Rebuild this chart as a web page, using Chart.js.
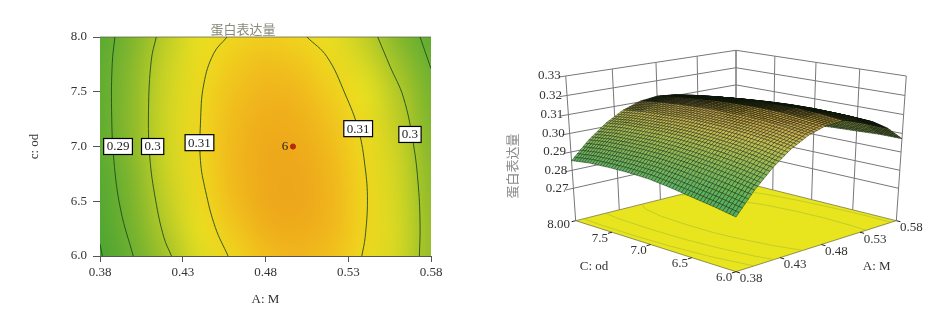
<!DOCTYPE html>
<html>
<head>
  <title>蛋白表达量</title>
  <script src="https://cdn.jsdelivr.net/npm/chart.js"></script>
  <style>
    body { margin: 0; background: #fff; }
    canvas { position: absolute; top: 0; }
    #contourChart { left: 0; }
    #surfaceChart { left: 475px; }
  </style>
</head>
<body>
  <canvas id="contourChart" width="475" height="314"></canvas>
  <canvas id="surfaceChart" width="476" height="314"></canvas>
  <script>
    // response: rows are C, columns are A
    const aValues = [0.38, 0.40, 0.42, 0.44, 0.46, 0.48, 0.50, 0.52, 0.54, 0.56, 0.58];
    const cValues = [8.0, 7.75, 7.5, 7.25, 7.0, 6.75, 6.5, 6.25, 6.0];
    const response = [
      [0.2853, 0.2946, 0.3019, 0.3072, 0.3104, 0.3115, 0.3106, 0.3076, 0.3026, 0.2955, 0.2863],
      [0.2866, 0.2959, 0.3032, 0.3085, 0.3118, 0.3131, 0.3124, 0.3097, 0.3050, 0.2983, 0.2896],
      [0.2870, 0.2964, 0.3038, 0.3092, 0.3127, 0.3142, 0.3138, 0.3114, 0.3070, 0.3007, 0.2924],
      [0.2870, 0.2966, 0.3042, 0.3098, 0.3134, 0.3151, 0.3148, 0.3125, 0.3083, 0.3021, 0.2939],
      [0.2865, 0.2962, 0.3040, 0.3099, 0.3137, 0.3156, 0.3155, 0.3134, 0.3094, 0.3034, 0.2954],
      [0.2851, 0.2952, 0.3034, 0.3096, 0.3137, 0.3158, 0.3159, 0.3140, 0.3101, 0.3041, 0.2961],
      [0.2832, 0.2938, 0.3024, 0.3089, 0.3133, 0.3157, 0.3160, 0.3142, 0.3104, 0.3045, 0.2966],
      [0.2814, 0.2921, 0.3009, 0.3076, 0.3122, 0.3148, 0.3154, 0.3139, 0.3104, 0.3048, 0.2972],
      [0.2792, 0.2900, 0.2988, 0.3057, 0.3105, 0.3133, 0.3141, 0.3129, 0.3097, 0.3045, 0.2972]
    ];

    // contour lines as [A, C]
    const line28 = [[0.38, 6.11], [0.3814, 6.0]];
    const line29L = [[0.389, 8], [0.3874, 7.76], [0.387, 7.33], [0.3884, 6.87], [0.3925, 6.42], [0.4001, 6]];
    const line29R = [[0.5734, 8], [0.58, 7.71]];
    const line30L = [[0.414, 8], [0.411, 7.79], [0.4093, 7.33], [0.4101, 6.9], [0.4136, 6.51], [0.4186, 6.17], [0.4232, 6]];
    const line30R = [[0.5478, 8], [0.5553, 7.73], [0.5633, 7.45], [0.5693, 7.03], [0.5724, 6.63], [0.5734, 6.27], [0.573, 6]];
    const line31L = [[0.4568, 8], [0.4487, 7.85], [0.4427, 7.57], [0.4407, 7.21], [0.4407, 6.87], [0.4437, 6.6], [0.4497, 6.26], [0.4574, 6]];
    const line31R = [[0.505, 8], [0.5171, 7.82], [0.5281, 7.48], [0.5362, 7.15], [0.5402, 6.81], [0.5416, 6.51], [0.5402, 6.17], [0.5382, 6]];
    const contourLines = [line28, line29L, line29R, line30L, line30R, line31L, line31R];

    const labelTexts = ['0.29', '0.3', '0.31', '0.31', '0.3'];
    const labelA = [0.3909, 0.4118, 0.4401, 0.536, 0.5673];
    const labelC = [7.0, 7.0, 7.035, 7.163, 7.11];
    const centerPoint = [0.4966, 7.0];

    const aTicks = [0.38, 0.43, 0.48, 0.53, 0.58];
    const cTicks = [6.0, 6.5, 7.0, 7.5, 8.0];
    const zTicks = [0.27, 0.28, 0.29, 0.30, 0.31, 0.32, 0.33];
    const cTickLabels3d = ['6.0', '6.5', '7.0', '7.5', '8.00'];
    const zFloor = 0.2516;

    const serif = '"Liberation Serif", serif';
    const cjk = '"Noto Sans CJK SC", sans-serif';
    const textColor = '#333';

    // colour ramps
    const rampZ = [0.275, 0.285, 0.295, 0.302, 0.307, 0.311, 0.314, 0.317];
    const heatRamp = [[70, 160, 50], [88, 170, 50], [130, 182, 45], [190, 205, 38], [232, 224, 32], [240, 210, 30], [240, 182, 28], [236, 160, 26]];
    const meshRamp = [[75, 170, 100], [90, 178, 95], [130, 185, 85], [170, 190, 80], [200, 190, 80], [205, 175, 75], [200, 160, 70], [190, 150, 65]];

    function rampColor(ramp, z) {
      if (z <= rampZ[0]) return ramp[0];
      for (let i = 1; i < rampZ.length; i++) {
        if (z <= rampZ[i]) {
          const t = (z - rampZ[i - 1]) / (rampZ[i] - rampZ[i - 1]);
          return ramp[i].map((v, k) => ramp[i - 1][k] + (v - ramp[i - 1][k]) * t);
        }
      }
      return ramp[ramp.length - 1];
    }
    function css(c) { return 'rgb(' + c.map(Math.round).join(',') + ')'; }

    // left: heat map behind the contour lines
    const heatPlugin = {
      id: 'heat',
      beforeDatasetsDraw(chart) {
        const { ctx, scales: { x, y } } = chart;
        const off = document.createElement('canvas');
        off.width = aValues.length;
        off.height = cValues.length;
        const oc = off.getContext('2d');
        response.forEach((row, j) => row.forEach((z, i) => {
          oc.fillStyle = css(rampColor(heatRamp, z));
          oc.fillRect(i, j, 1, 1);
        }));
        const x0 = x.getPixelForValue(aValues[0]), x1 = x.getPixelForValue(aValues[aValues.length - 1]);
        const y0 = y.getPixelForValue(cValues[0]), y1 = y.getPixelForValue(cValues[cValues.length - 1]);
        ctx.save();
        ctx.imageSmoothingEnabled = true;
        ctx.imageSmoothingQuality = 'high';
        ctx.drawImage(off, 0.5, 0.5, off.width - 1, off.height - 1, x0, y0, x1 - x0, y1 - y0);
        ctx.strokeStyle = 'rgba(90,90,60,0.7)';
        ctx.lineWidth = 1;
        ctx.beginPath();
        ctx.moveTo(x0, y0);
        ctx.lineTo(x1, y0);
        ctx.stroke();
        ctx.restore();
      },
      afterDatasetsDraw(chart) {
        const { ctx, scales: { x, y } } = chart;
        ctx.save();
        ctx.font = '13px ' + serif;
        ctx.textAlign = 'center';
        ctx.textBaseline = 'middle';
        labelTexts.forEach((t, i) => {
          const px = x.getPixelForValue(labelA[i]), py = y.getPixelForValue(labelC[i]);
          const w = ctx.measureText(t).width + 6;
          ctx.fillStyle = '#fff';
          ctx.strokeStyle = '#000';
          ctx.lineWidth = 1.2;
          ctx.fillRect(px - w / 2, py - 8, w, 16);
          ctx.strokeRect(px - w / 2, py - 8, w, 16);
          ctx.fillStyle = '#222';
          ctx.fillText(t, px, py + 0.5);
        });
        ctx.fillText('6', x.getPixelForValue(centerPoint[0]) - 8, y.getPixelForValue(centerPoint[1]));
        ctx.fillStyle = '#8a8a7a';
        ctx.font = '13px ' + cjk;
        ctx.fillText('蛋白表达量', 243, 29);
        ctx.restore();
      }
    };

    new Chart(document.getElementById('contourChart'), {
      type: 'scatter',
      data: {
        datasets: contourLines.map(l => ({
          data: l.map(p => ({ x: p[0], y: p[1] })),
          showLine: true,
          tension: 0.4,
          borderColor: 'rgba(25,70,30,0.85)',
          borderWidth: 1,
          pointRadius: 0
        })).concat([{
          data: [{ x: centerPoint[0], y: centerPoint[1] }],
          pointRadius: 2.6,
          backgroundColor: '#b8280e',
          borderColor: '#b8280e'
        }])
      },
      options: {
        responsive: false,
        animation: false,
        layout: { padding: { top: 37, right: 44 } },
        plugins: { legend: { display: false }, tooltip: { enabled: false } },
        scales: {
          x: {
            type: 'linear', min: 0.38, max: 0.58,
            afterBuildTicks: s => { s.ticks = aTicks.map(v => ({ value: v })); },
            afterFit: s => { s.height = 58; },
            grid: { drawOnChartArea: false, color: '#555', tickLength: 6 },
            border: { color: '#555' },
            ticks: { callback: v => v.toFixed(2), font: { family: serif, size: 13 }, color: textColor, maxRotation: 0, padding: 3 },
            title: { display: true, text: 'A: M', font: { family: serif, size: 13 }, color: textColor, padding: { top: 8, bottom: 7 } }
          },
          y: {
            type: 'linear', min: 6, max: 8,
            afterBuildTicks: s => { s.ticks = cTicks.map(v => ({ value: v })); },
            afterFit: s => { s.width = 100; },
            grid: { drawOnChartArea: false, color: '#555', tickLength: 7 },
            border: { color: '#555' },
            ticks: { callback: v => v.toFixed(1), font: { family: serif, size: 13 }, color: textColor, padding: 6 },
            title: { display: true, text: 'c: od', font: { family: serif, size: 13 }, color: textColor, padding: { top: 27 } }
          }
        }
      },
      plugins: [heatPlugin]
    });

    // right: perspective box, everything goes through project()
    function project(a, c, z) {
      const u = (a - 0.38) / 0.2, v = (c - 6) / 2, w = (z - zFloor) / (0.33 - zFloor);
      const h = u - v, g = u + v;
      const d = 7.27 + g - 0.483 * w;
      return { x: 736 + 1326 * h / d, y: 271.7 - (421.8 * g + 1102 * w) / d };
    }
    function path3d(pts, color, width) {
      return {
        data: pts.map(p => project(p[0], p[1], p[2])),
        showLine: true, borderColor: color, borderWidth: width, pointRadius: 0, tension: 0
      };
    }

    const wallColor = '#777';
    const wallLines = [];
    zTicks.forEach(z => wallLines.push(path3d([[0.372, 8, z], [0.58, 8, z], [0.58, 6, z]], wallColor, 1)));
    aTicks.forEach(a => wallLines.push(path3d([[a, 8, zFloor], [a, 8, 0.33]], wallColor, 1)));
    cTicks.forEach(c => wallLines.push(path3d([[0.58, c, zFloor], [0.58, c, 0.33]], wallColor, 1)));
    const floorTicks = [];
    aTicks.forEach(a => floorTicks.push(path3d([[a, 6, zFloor], [a, 5.955, zFloor]], '#222', 1)));
    cTicks.forEach(c => floorTicks.push(path3d([[0.38, c, zFloor], [0.3755, c, zFloor]], '#222', 1)));

    function zAt(fi, fj) {
      const i = Math.min(Math.floor(fi), aValues.length - 2), j = Math.min(Math.floor(fj), cValues.length - 2);
      const s = fi - i, t = fj - j;
      return (response[j][i] * (1 - s) + response[j][i + 1] * s) * (1 - t) +
             (response[j + 1][i] * (1 - s) + response[j + 1][i + 1] * s) * t;
    }

    const surfacePlugin = {
      id: 'surface',
      beforeDatasetsDraw(chart) {
        const { ctx, scales: { x, y } } = chart;
        const poly = pts => {
          ctx.beginPath();
          pts.forEach((p, i) => {
            const px = x.getPixelForValue(p.x), py = y.getPixelForValue(p.y);
            if (i) ctx.lineTo(px, py); else ctx.moveTo(px, py);
          });
        };
        ctx.save();
        poly([[0.38, 6], [0.58, 6], [0.58, 8], [0.38, 8]].map(p => project(p[0], p[1], zFloor)));
        ctx.closePath();
        ctx.fillStyle = '#e8e41e';
        ctx.fill();
        ctx.strokeStyle = 'rgba(90,90,50,0.8)';
        ctx.lineWidth = 0.8;
        ctx.stroke();
        ctx.strokeStyle = 'rgba(170,190,50,0.6)';
        ctx.lineWidth = 1;
        [line29L, line30L, line30R, line31L, line31R].forEach(l => {
          poly(l.map(p => project(p[0], p[1], zFloor)));
          ctx.stroke();
        });
        ctx.restore();
      },
      afterDatasetsDraw(chart) {
        const { ctx, scales: { x, y } } = chart;
        const subA = 6, subC = 7;
        const nA = (aValues.length - 1) * subA, nC = (cValues.length - 1) * subC;
        const node = (i, j) => {
          const fi = i / subA, fj = j / subC;
          const a = aValues[0] + (aValues[aValues.length - 1] - aValues[0]) * i / nA;
          const c = cValues[0] + (cValues[cValues.length - 1] - cValues[0]) * j / nC;
          const z = zAt(fi, fj);
          const p = project(a, c, z);
          return { px: x.getPixelForValue(p.x), py: y.getPixelForValue(p.y), z };
        };
        ctx.save();
        ctx.lineWidth = 0.6;
        // back corner first (A high, C high, j=0 is C=8)
        for (let i = nA - 1; i >= 0; i--) {
          for (let j = 0; j < nC; j++) {
            const q = [node(i, j), node(i + 1, j), node(i + 1, j + 1), node(i, j + 1)];
            // foreshortened cells go dark, like the far side of the ridge in the original
            const area = Math.abs((q[2].px - q[0].px) * (q[3].py - q[1].py) - (q[3].px - q[1].px) * (q[2].py - q[0].py)) / 2;
            const shade = Math.max(0.12, Math.min(1, (area - 1.2) / 4.5));
            ctx.beginPath();
            q.forEach((n, k) => { if (k) ctx.lineTo(n.px, n.py); else ctx.moveTo(n.px, n.py); });
            ctx.closePath();
            ctx.fillStyle = css(rampColor(meshRamp, (q[0].z + q[2].z) / 2).map(v => v * shade));
            ctx.fill();
            ctx.strokeStyle = 'rgba(12,22,10,' + (0.7 + 0.3 * (1 - shade)) + ')';
            ctx.stroke();
          }
        }
        // axis text
        ctx.fillStyle = textColor;
        ctx.font = '13px ' + serif;
        ctx.textBaseline = 'middle';
        const at = (p, dx, dy) => [x.getPixelForValue(p.x) + dx, y.getPixelForValue(p.y) + dy];
        ctx.textAlign = 'right';
        zTicks.forEach(z => {
          const [tx, ty] = at(project(0.38, 8, z), -5, 0);
          ctx.fillText(z.toFixed(2), tx, ty);
        });
        ctx.textAlign = 'center';
        aTicks.forEach(a => {
          const [tx, ty] = at(project(a, 6, zFloor), 15, 7);
          ctx.fillText(a.toFixed(2), tx, ty);
        });
        cTicks.forEach((c, i) => {
          const [tx, ty] = at(project(0.38, c, zFloor), i === 4 ? -17 : -12, i === 4 ? 4 : 6);
          ctx.fillText(cTickLabels3d[i], tx, ty);
        });
        ctx.fillText('C: od', x.getPixelForValue(594), y.getPixelForValue(266.7));
        ctx.fillText('A: M', x.getPixelForValue(876.7), y.getPixelForValue(266.7));
        ctx.translate(x.getPixelForValue(511.7), y.getPixelForValue(166));
        ctx.rotate(-Math.PI / 2);
        ctx.fillStyle = '#8a8a8a';
        ctx.font = '13px ' + cjk;
        ctx.fillText('蛋白表达量', 0, 0);
        ctx.restore();
      }
    };

    new Chart(document.getElementById('surfaceChart'), {
      type: 'scatter',
      data: { datasets: wallLines.concat(floorTicks) },
      options: {
        responsive: false,
        animation: false,
        layout: { padding: 0 },
        plugins: { legend: { display: false }, tooltip: { enabled: false } },
        scales: {
          x: { type: 'linear', min: 475, max: 951, display: false },
          y: { type: 'linear', min: 0, max: 314, reverse: true, display: false }
        }
      },
      plugins: [surfacePlugin]
    });
  </script>
</body>
</html>
